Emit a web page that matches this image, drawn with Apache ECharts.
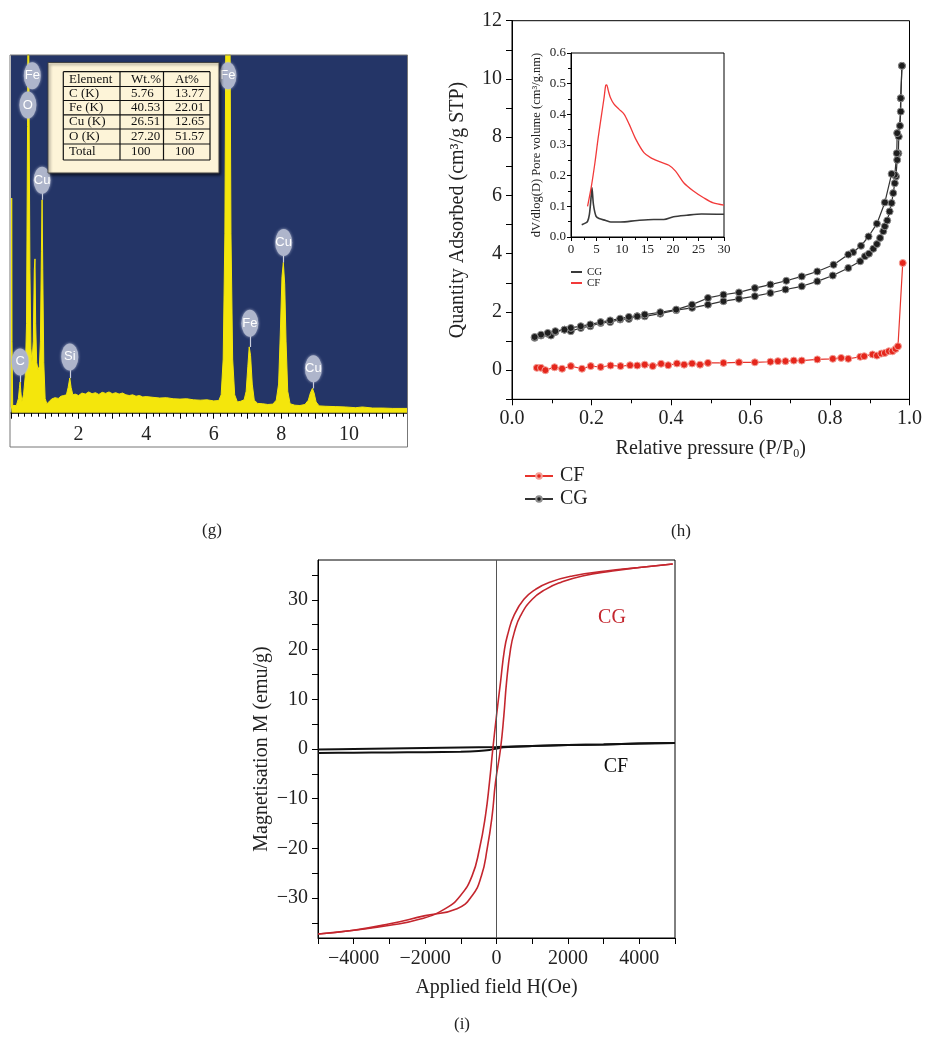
<!DOCTYPE html>
<html><head><meta charset="utf-8">
<script src="https://cdn.jsdelivr.net/npm/echarts@6/dist/echarts.min.js"></script>
<style>html,body{margin:0;padding:0;background:#fff}#c{width:925px;height:1038px}</style>
</head><body><div id="c"></div>
<script>
// ---------------- DATA ----------------
// (g) EDS spectrum: [energy keV, counts (0-100 = full panel height, >100 clipped)]
const edsSpectrum = [
 [0.00,1.5],[0.015,20],[0.02,60],[0.03,20],[0.05,2],[0.10,1.5],[0.16,2],[0.22,4],[0.25,7],[0.27,8.6],[0.29,6],[0.32,3],
 [0.37,5],[0.42,10],[0.46,25],[0.49,80],[0.51,130],[0.54,130],[0.56,40],[0.59,18],[0.62,14],[0.66,20],[0.69,40],[0.71,43],
 [0.73,25],[0.76,14],[0.80,12],[0.84,13],[0.87,20],[0.90,45],[0.92,59.5],[0.94,40],[0.97,14],[1.01,4],[1.06,2.5],
 [1.12,3],[1.2,3.8],[1.3,4.2],[1.4,4.0],[1.48,4.6],[1.56,4.8],[1.64,5],[1.69,7],[1.74,9.7],[1.78,7],[1.83,5],
 [1.9,5.2],[2.0,4.8],[2.1,5.5],[2.2,5.2],[2.3,5.8],[2.4,5.3],[2.5,5.6],[2.6,5.1],[2.7,5.7],[2.8,5.4],[2.9,5.8],
 [3.0,5.3],[3.1,5.6],[3.2,5.2],[3.3,5.5],[3.4,5.0],[3.5,4.8],[3.6,5.0],[3.7,4.6],[3.8,4.8],[3.9,4.4],[4.0,4.5],
 [4.2,4.3],[4.4,4.1],[4.6,4.2],[4.8,3.9],[5.0,3.8],[5.2,3.9],[5.4,3.6],[5.6,3.5],[5.8,3.6],[6.0,3.3],[6.15,3.4],
 [6.22,5],[6.28,15],[6.33,50],[6.37,130],[6.47,130],[6.51,50],[6.56,15],[6.62,5],[6.7,3],[6.8,3.2],[6.9,3.6],
 [6.96,6],[7.01,13],[7.05,18.4],[7.09,16],[7.14,8],[7.2,3.5],[7.3,2.6],[7.45,2.5],[7.6,2.3],[7.75,2.4],[7.85,3.5],
 [7.92,8],[7.97,22],[8.02,38],[8.06,42],[8.1,36],[8.14,20],[8.19,6],[8.26,2.5],[8.4,2.1],[8.55,2.0],[8.7,2.3],
 [8.8,3.5],[8.86,5.5],[8.92,6.8],[8.97,5.5],[9.03,3],[9.12,1.9],[9.3,1.8],[9.6,1.7],[9.9,1.6],[10.2,1.4],[10.4,1.6],
 [10.7,1.3],[11.0,1.3],[11.3,1.2],[11.72,1.2]
];
// peak labels: [element, keV, label centre counts, peak top counts]
const edsPeakLabels = [
 ['Fe',0.63,94.2,94.2],['O',0.50,86,86],['Cu',0.92,65,59.5],['C',0.27,14.2,8.6],['Si',1.74,15.6,9.7],
 ['Fe',6.42,94.2,94.2],['Fe',7.07,25,18.4],['Cu',8.07,47.6,42],['Cu',8.95,12.3,6.8]
];
const edsXLabels = [2,4,6,8,10];
const tableHeader = ['Element','Wt.%','At%'];
const tableRows = [
 ['C (K)','5.76','13.77'],
 ['Fe (K)','40.53','22.01'],
 ['Cu (K)','26.51','12.65'],
 ['O (K)','27.20','51.57'],
 ['Total','100','100']
];

// (h) N2 isotherms: [P/P0, quantity adsorbed]
const cgAdsorption = [
 [0.057,1.11],[0.073,1.19],[0.09,1.25],[0.098,1.19],[0.109,1.31],[0.132,1.39],[0.148,1.34],[0.173,1.45],[0.197,1.51],
 [0.223,1.62],[0.247,1.65],[0.272,1.74],[0.294,1.76],[0.315,1.85],[0.334,1.85],[0.373,1.94],[0.413,2.06],[0.453,2.14],
 [0.493,2.25],[0.532,2.37],[0.571,2.45],[0.611,2.54],[0.65,2.65],[0.688,2.77],[0.729,2.88],[0.768,3.05],[0.807,3.25],
 [0.846,3.51],[0.876,3.74],[0.888,3.91],[0.898,4.0],[0.909,4.17],[0.918,4.33],[0.926,4.54],[0.934,4.77],[0.938,4.94],
 [0.944,5.14],[0.95,5.45],[0.955,5.74],[0.959,6.08],[0.963,6.42],[0.966,6.65],[0.969,7.22],[0.972,7.45],[0.973,8.02],
 [0.978,8.88],[0.978,9.34],[0.981,10.45]
];
const cgDesorption = [
 [0.981,10.45],[0.978,9.34],[0.976,8.39],[0.969,8.14],[0.968,7.45],[0.963,6.71],[0.955,6.74],[0.938,5.76],[0.918,5.03],
 [0.897,4.59],[0.878,4.27],[0.858,4.05],[0.846,3.97],[0.809,3.62],[0.768,3.39],[0.729,3.22],[0.69,3.07],[0.65,2.94],
 [0.611,2.82],[0.571,2.67],[0.532,2.59],[0.493,2.48],[0.453,2.25],[0.413,2.08],[0.373,1.99],[0.334,1.91],[0.315,1.85],
 [0.294,1.83],[0.272,1.77],[0.247,1.71],[0.223,1.65],[0.197,1.57],[0.173,1.51],[0.148,1.45],[0.132,1.39],[0.109,1.34],
 [0.09,1.28],[0.073,1.22],[0.057,1.14]
];
const cfIsotherm = [
 [0.0625,0.08],[0.073,0.08],[0.084,0.0],[0.107,0.10],[0.126,0.05],[0.148,0.14],[0.176,0.05],[0.198,0.14],[0.223,0.11],
 [0.248,0.16],[0.273,0.14],[0.297,0.17],[0.315,0.16],[0.334,0.19],[0.354,0.14],[0.375,0.22],[0.393,0.17],[0.415,0.23],
 [0.433,0.19],[0.453,0.23],[0.473,0.19],[0.493,0.25],[0.532,0.25],[0.571,0.27],[0.611,0.27],[0.65,0.29],[0.669,0.31],
 [0.688,0.31],[0.709,0.33],[0.729,0.33],[0.768,0.37],[0.807,0.39],[0.828,0.42],[0.846,0.39],[0.876,0.46],[0.886,0.48],
 [0.907,0.54],[0.918,0.50],[0.929,0.57],[0.938,0.59],[0.948,0.65],[0.957,0.65],[0.965,0.73],[0.971,0.82],[0.983,3.68]
];
const hXLabels = [0,0.2,0.4,0.6,0.8,1.0];
const hYLabels = [0,2,4,6,8,10,12];

// (h) inset: pore size distribution [pore diameter nm, dV/dlog(D)]
const psdCF = [
 [3.25,0.10],[4.0,0.166],[4.7,0.243],[5.3,0.32],[6.0,0.40],[6.5,0.456],[6.8,0.494],[7.0,0.496],[7.3,0.478],[7.7,0.456],
 [8.4,0.434],[9.4,0.417],[10.4,0.401],[11.4,0.368],[12.7,0.319],[14.3,0.275],[15.6,0.259],[17.5,0.245],[19.2,0.234],
 [20.5,0.215],[22.1,0.177],[24.0,0.150],[26.0,0.128],[27.9,0.111],[30,0.104]
];
const psdCG = [
 [2.1,0.040],[2.9,0.046],[3.25,0.051],[3.6,0.073],[3.9,0.122],[4.1,0.161],[4.4,0.106],[4.9,0.068],[5.5,0.060],[6.8,0.054],
 [7.8,0.049],[9.7,0.049],[13.0,0.054],[16.2,0.057],[18.2,0.057],[20.1,0.066],[22.7,0.071],[25.6,0.075],[30,0.074]
];

// (i) magnetisation loops: [H (Oe), M (emu/g)]
const cgDescending = [
 [-4993,-37.2],[-4056,-36.5],[-3026,-35.5],[-2136,-34.2],[-1433,-32.1],[-1012,-29.5],[-684,-25.5],[-478,-20.1],
 [-309,-13.4],[-197,-6.7],[-103,0],[0,6.7],[112,13.4],[225,20.1],[328,23.4],[487,26.8],[768,30.1],[1096,32.1],
 [1471,33.5],[2126,34.8],[3063,35.8],[4000,36.5],[4937,37.2]
];
const cgAscending = [
 [-4993,-37.2],[-4056,-36.5],[-3026,-35.2],[-1995,-33.5],[-1105,-32.1],[-684,-29.5],[-422,-25.5],[-262,-20.1],
 [-122,-13.4],[-28,-6.7],[112,0],[206,6.7],[281,13.4],[393,20.1],[496,23.4],[674,26.8],[1002,30.1],[1377,32.1],
 [1799,33.5],[2407,34.8],[3250,35.8],[4000,36.5],[4937,37.2]
];
const cfUpper = [[-5000,-0.1],[-4000,0.0],[-3000,0.1],[-2000,0.2],[-1000,0.3],[0,0.4],[1000,0.6],[2000,0.8],[3000,0.9],[4000,1.1],[5000,1.2]];
const cfLower = [[-5000,-0.8],[-4000,-0.75],[-3000,-0.7],[-2000,-0.65],[-1000,-0.55],[-500,-0.4],[-200,-0.2],[0,0.1],[200,0.35],[1000,0.6],[2000,0.8],[3000,0.9],[4000,1.1],[5000,1.2]];
const iXLabels = [-4000,-2000,0,2000,4000];
const iYLabels = [-30,-20,-10,0,10,20,30];

// ---------------- CHART ----------------
const FONT = "'Liberation Serif','DejaVu Serif',serif";
const TXT = '#222';
const chart = echarts.init(document.getElementById('c'), null, {renderer:'canvas'});
const minus = v => String(v).replace('-', '\u2212');
const blk = {color:'#000'};

function tableGraphics(){
  const g = [];
  const colX = [63.3, 120, 163.5, 210];
  const rowY = [71.7, 86.5, 100.5, 114.8, 129, 144, 160];
  const txtX = [69, 131, 175];
  g.push({type:'rect', z:100, shape:{x:48,y:62.5,width:171,height:110.5},
    style:{fill:'#fdf4d8', stroke:'#444', lineWidth:1, shadowBlur:3, shadowColor:'rgba(0,0,0,0.6)', shadowOffsetX:1.5, shadowOffsetY:1.5}});
  rowY.forEach(y => g.push({type:'line', z:101, shape:{x1:colX[0],y1:y,x2:colX[3],y2:y}, style:{stroke:'#111', lineWidth:1.2}}));
  colX.forEach(x => g.push({type:'line', z:101, shape:{x1:x,y1:rowY[0],x2:x,y2:rowY[6]}, style:{stroke:'#111', lineWidth:1.2}}));
  const rows = [tableHeader].concat(tableRows);
  rows.forEach((r, i) => {
    const cy = (rowY[i] + rowY[i+1]) / 2;
    r.forEach((t, j) => g.push({type:'text', z:102, x:txtX[j], y:cy,
      style:{text:t, fill:'#111', font:"13px 'Liberation Serif', serif", textVerticalAlign:'middle', textAlign:'left'}}));
  });
  return g;
}

const option = {
  backgroundColor:'#fff',
  animation:false,
  grid:[
    {left:11, width:396, top:55, height:357.7, show:true, backgroundColor:'#243567', borderWidth:0},
    {left:512, right:13, top:20.7, bottom:638.7, show:true, borderColor:'#000', borderWidth:1, backgroundColor:'transparent'},
    {left:571, width:153, top:53, height:184, show:true, borderColor:'#000', borderWidth:1, backgroundColor:'transparent'},
    {left:318, right:250, top:560, bottom:100, show:true, borderColor:'#000', borderWidth:1, backgroundColor:'transparent'}
  ],
  xAxis:[
    {gridIndex:0, type:'value', min:0, max:11.72, interval:1,
      axisLine:{onZero:false, lineStyle:{color:'#000', width:1.5}},
      axisTick:{length:6, lineStyle:blk}, minorTick:{show:true, splitNumber:5, length:4, lineStyle:blk},
      splitLine:{show:false},
      axisLabel:{margin:12, fontSize:20, fontFamily:FONT, color:TXT, showMaxLabel:false,
        formatter:v => edsXLabels.includes(Math.round(v*100)/100) ? String(v) : ''}},
    {gridIndex:1, type:'value', min:0, max:1, interval:0.2,
      axisLine:{onZero:false, lineStyle:blk}, axisTick:{length:6, lineStyle:blk},
      minorTick:{show:true, splitNumber:2, length:4, lineStyle:blk}, splitLine:{show:false},
      axisLabel:{margin:9, fontSize:20, fontFamily:FONT, color:TXT,
        formatter:v => hXLabels.some(t => Math.abs(t-v)<1e-6) ? v.toFixed(1) : ''},
      name:'Relative pressure (P/P{sub|0})', nameLocation:'middle', nameGap:37,
      nameTextStyle:{fontSize:20, fontFamily:FONT, color:TXT,
        rich:{sub:{fontSize:12, fontFamily:FONT, color:TXT, padding:[12,0,0,0]}}}},
    {gridIndex:2, type:'value', min:0, max:30, interval:5,
      axisLine:{onZero:false, lineStyle:blk}, axisTick:{length:4, lineStyle:blk},
      minorTick:{show:true, splitNumber:2, length:3, lineStyle:blk}, splitLine:{show:false},
      axisLabel:{margin:6, fontSize:13, fontFamily:FONT, color:TXT}},
    {gridIndex:3, type:'value', min:-5000, max:5000, interval:1000,
      axisLine:{onZero:false, lineStyle:blk}, axisTick:{length:6, lineStyle:blk}, splitLine:{show:false},
      axisLabel:{margin:11, fontSize:20, fontFamily:FONT, color:TXT,
        formatter:v => iXLabels.includes(v) ? minus(v) : ''},
      name:'Applied field H(Oe)', nameLocation:'middle', nameGap:40,
      nameTextStyle:{fontSize:20, fontFamily:FONT, color:TXT}}
  ],
  yAxis:[
    {gridIndex:0, type:'value', min:0, max:100, show:false},
    {gridIndex:1, type:'value', min:-1, max:12, interval:1,
      axisLine:{onZero:false, lineStyle:blk}, axisTick:{length:6, lineStyle:blk}, splitLine:{show:false},
      axisLabel:{margin:10, fontSize:20, fontFamily:FONT, color:TXT,
        formatter:v => hYLabels.includes(v) ? String(v) : ''},
      name:'Quantity Adsorbed (cm³/g STP)', nameLocation:'middle', nameGap:44,
      nameTextStyle:{fontSize:20, fontFamily:FONT, color:TXT}},
    {gridIndex:2, type:'value', min:0, max:0.6, interval:0.1,
      axisLine:{onZero:false, lineStyle:blk}, axisTick:{length:4, lineStyle:blk},
      minorTick:{show:true, splitNumber:2, length:3, lineStyle:blk}, splitLine:{show:false},
      axisLabel:{margin:5, fontSize:13, fontFamily:FONT, color:TXT, formatter:v => v.toFixed(1)},
      name:'dV/dlog(D) Pore volume (cm³/g.nm)', nameLocation:'middle', nameGap:28,
      nameTextStyle:{fontSize:12.5, fontFamily:FONT, color:TXT}},
    {gridIndex:3, type:'value', min:-38, max:38, splitNumber:15,
      axisLine:{onZero:false, lineStyle:blk}, axisTick:{length:6, lineStyle:blk}, splitLine:{show:false},
      axisLabel:{margin:10, fontSize:20, fontFamily:FONT, color:TXT, showMinLabel:false, showMaxLabel:false,
        formatter:v => iYLabels.includes(v) ? minus(v) : ''},
      name:'Magnetisation M (emu/g)', nameLocation:'middle', nameGap:46,
      nameTextStyle:{fontSize:20, fontFamily:FONT, color:TXT}}
  ],
  legend:[
    {data:['CF','CG'], orient:'vertical', left:519, top:461, itemWidth:28, itemHeight:7, itemGap:3, selectedMode:false,
      textStyle:{fontSize:20, fontFamily:FONT, color:TXT, padding:[0,0,0,2]}},
    {data:[{name:'psdCG', icon:'rect'},{name:'psdCF', icon:'rect'}], formatter:n => n.replace('psd',''),
      orient:'vertical', left:566, top:261.5, itemWidth:11, itemHeight:2, itemGap:0, selectedMode:false,
      textStyle:{fontSize:11, fontFamily:FONT, color:TXT}}
  ],
  series:[
    // (g)
    {type:'line', xAxisIndex:0, yAxisIndex:0, data:edsSpectrum, symbol:'none', z:2,
      lineStyle:{color:'#f4e60c', width:1}, areaStyle:{color:'#f4e60c', opacity:1}},
    {type:'lines', coordinateSystem:'cartesian2d', xAxisIndex:0, yAxisIndex:0, z:3, silent:true,
      data:edsPeakLabels.filter(p => p[2] > p[3]).map(p => ({coords:[[p[1], p[2]], [p[1], p[3]]]})),
      lineStyle:{color:'#c9cedd', width:1.2, opacity:1}},
    {type:'scatter', xAxisIndex:0, yAxisIndex:0, z:4, silent:true,
      data:edsPeakLabels.map(p => ({value:[p[1], p[2]], name:p[0]})),
      symbol:'circle', symbolSize:[17,27],
      itemStyle:{color:'#aeb5cb', opacity:1, shadowBlur:3, shadowColor:'rgba(200,205,225,0.8)'},
      label:{show:true, position:'inside', formatter:p => p.name, color:'#fff', fontSize:13,
        fontFamily:"'Liberation Sans','DejaVu Sans',sans-serif"}},
    // (h) main
    {name:'CF', type:'line', xAxisIndex:1, yAxisIndex:1, data:cfIsotherm, symbol:'circle', symbolSize:7,
      lineStyle:{color:'#e8342d', width:1.2}, itemStyle:{color:'#e5261c', borderColor:'#f4a098', borderWidth:1}},
    {name:'CG', type:'line', xAxisIndex:1, yAxisIndex:1, data:cgAdsorption, symbol:'circle', symbolSize:7,
      lineStyle:{color:'#333', width:1.2}, itemStyle:{color:'#1e1e1e', borderColor:'#8c8c8c', borderWidth:1}},
    {name:'CG', type:'line', xAxisIndex:1, yAxisIndex:1, data:cgDesorption, symbol:'circle', symbolSize:7,
      lineStyle:{color:'#333', width:1.2}, itemStyle:{color:'#1e1e1e', borderColor:'#8c8c8c', borderWidth:1}},
    // (h) inset
    {name:'psdCG', type:'line', xAxisIndex:2, yAxisIndex:2, data:psdCG, symbol:'none', smooth:0.3,
      lineStyle:{color:'#3a3a3a', width:1.6}, itemStyle:{color:'#3a3a3a'}},
    {name:'psdCF', type:'line', xAxisIndex:2, yAxisIndex:2, data:psdCF, symbol:'none', smooth:0.3,
      lineStyle:{color:'#f23a3a', width:1.3}, itemStyle:{color:'#f23a3a'}},
    // (i)
    {type:'line', xAxisIndex:3, yAxisIndex:3, data:cfUpper, symbol:'none', smooth:0.3,
      lineStyle:{color:'#111', width:2}},
    {type:'line', xAxisIndex:3, yAxisIndex:3, data:cfLower, symbol:'none', smooth:0.3,
      lineStyle:{color:'#111', width:2},
      markLine:{silent:true, symbol:'none', label:{show:false}, lineStyle:{color:'#555', width:1, type:'solid'},
        data:[{xAxis:0}]}},
    {type:'line', xAxisIndex:3, yAxisIndex:3, data:cgDescending, symbol:'none', smooth:0.5,
      lineStyle:{color:'#c4262e', width:1.6}},
    {type:'line', xAxisIndex:3, yAxisIndex:3, data:cgAscending, symbol:'none', smooth:0.5,
      lineStyle:{color:'#c4262e', width:1.6}}
  ],
  graphic: [
    {type:'rect', z:50, shape:{x:10,y:55,width:397.5,height:392}, style:{fill:'none', stroke:'#777', lineWidth:1}},
    ...tableGraphics(),
    {type:'text', x:212, y:531, style:{text:'(g)', font:"17px 'Liberation Serif', serif", fill:TXT, textAlign:'center', textVerticalAlign:'middle'}},
    {type:'text', x:681, y:532, style:{text:'(h)', font:"17px 'Liberation Serif', serif", fill:TXT, textAlign:'center', textVerticalAlign:'middle'}},
    {type:'text', x:462, y:1025, style:{text:'(i)', font:"17px 'Liberation Serif', serif", fill:TXT, textAlign:'center', textVerticalAlign:'middle'}},
    {type:'text', x:612, y:618, style:{text:'CG', font:"20px 'Liberation Serif', serif", fill:'#c4262e', textAlign:'center', textVerticalAlign:'middle'}},
    {type:'text', x:616, y:767, style:{text:'CF', font:"20px 'Liberation Serif', serif", fill:'#111', textAlign:'center', textVerticalAlign:'middle'}}
  ]
};
chart.setOption(option);
</script>
</body></html>
